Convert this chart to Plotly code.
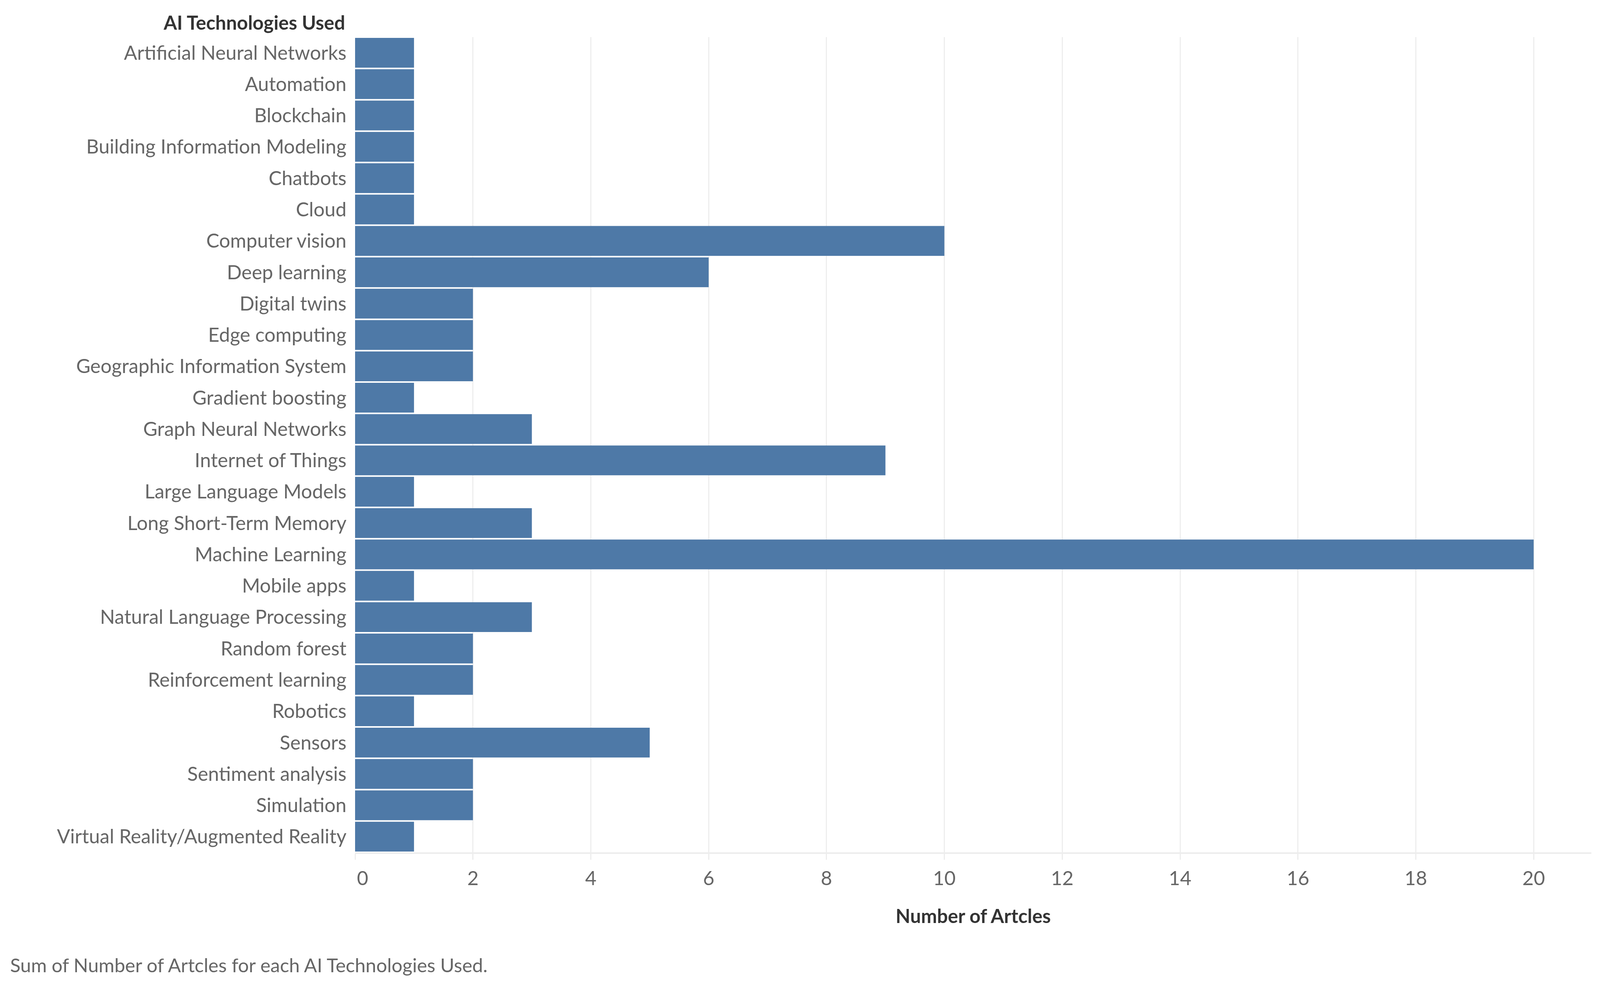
import plotly.graph_objects as go

categories = [
    "Artificial Neural Networks", "Automation", "Blockchain",
    "Building Information Modeling", "Chatbots", "Cloud", "Computer vision",
    "Deep learning", "Digital twins", "Edge computing",
    "Geographic Information System", "Gradient boosting",
    "Graph Neural Networks", "Internet of Things", "Large Language Models",
    "Long Short-Term Memory", "Machine Learning", "Mobile apps",
    "Natural Language Processing", "Random forest", "Reinforcement learning",
    "Robotics", "Sensors", "Sentiment analysis", "Simulation",
    "Virtual Reality/Augmented Reality",
]
articles = [1, 1, 1, 1, 1, 1, 10, 6, 2, 2, 2, 1, 3, 9, 1, 3, 20, 1, 3, 2, 2, 1, 5, 2, 2, 1]
x_ticks = [0, 2, 4, 6, 8, 10, 12, 14, 16, 18, 20]

# The browser viewport is 4096 x 2514; horizontal layout is scaled to it.
S = 4096 / 4251
W, H = 4096, 2514
L, R, T, B = 943 * S, 23 * S, 95, 2514 - 2182
FONT = "Lato"
FS = 50
FSB = 49

fig = go.Figure(go.Bar(
    x=articles, y=categories, orientation="h",
    marker=dict(color="#4E79A7", line=dict(width=0)),
    hoverinfo="x+y",
))

pw, ph = W - L - R, H - T - B
tick_text = [("\u00a0\u00a0\u00a0" + str(v)) if v == 0 else str(v) for v in x_ticks]

fig.update_layout(
    width=W, height=H,
    margin=dict(l=L, r=R, t=T, b=B),
    paper_bgcolor="white", plot_bgcolor="white",
    bargap=0.05,
    showlegend=False,
    font=dict(family=FONT, size=FS, color="#666666"),
    xaxis=dict(
        range=[0, 20.98],
        tickvals=x_ticks,
        ticktext=tick_text,
        showgrid=True, gridcolor="#eeeeee", gridwidth=3,
        zeroline=False,
        showline=True, linecolor="#ededed", linewidth=4,
        ticks="outside", ticklen=15, tickwidth=3, tickcolor="#ededed",
        ticklabelstandoff=5,
        tickfont=dict(family=FONT, size=FS, color="#666666"),
        title=dict(text="<b>Number of Artcles</b>", standoff=54,
                   font=dict(family=FONT, size=FSB, color="#333333")),
    ),
    yaxis=dict(
        categoryorder="array", categoryarray=categories,
        autorange="reversed",
        showgrid=False, zeroline=False, showline=False,
        ticks="", ticklabelstandoff=21,
        tickfont=dict(family=FONT, size=FS, color="#666666"),
    ),
    annotations=[
        dict(text="<b>AI Technologies Used</b>", xref="paper", yref="paper",
             x=-(L - 919 * S) / pw, y=1 + (T - 57) / ph,
             xanchor="right", yanchor="middle", showarrow=False,
             font=dict(family=FONT, size=FSB, color="#333333")),
        dict(text="Sum of Number of Artcles for each AI Technologies Used.",
             xref="paper", yref="paper",
             x=-(L - 24 * S) / pw, y=-(2470 - (H - B)) / ph,
             xanchor="left", yanchor="middle", showarrow=False,
             font=dict(family=FONT, size=49, color="#666666")),
    ],
)

post = "document.body.style.margin = '0'; document.body.style.overflow = 'hidden';"
fig.write_html("out.html", post_script=post, config={"displayModeBar": False})
